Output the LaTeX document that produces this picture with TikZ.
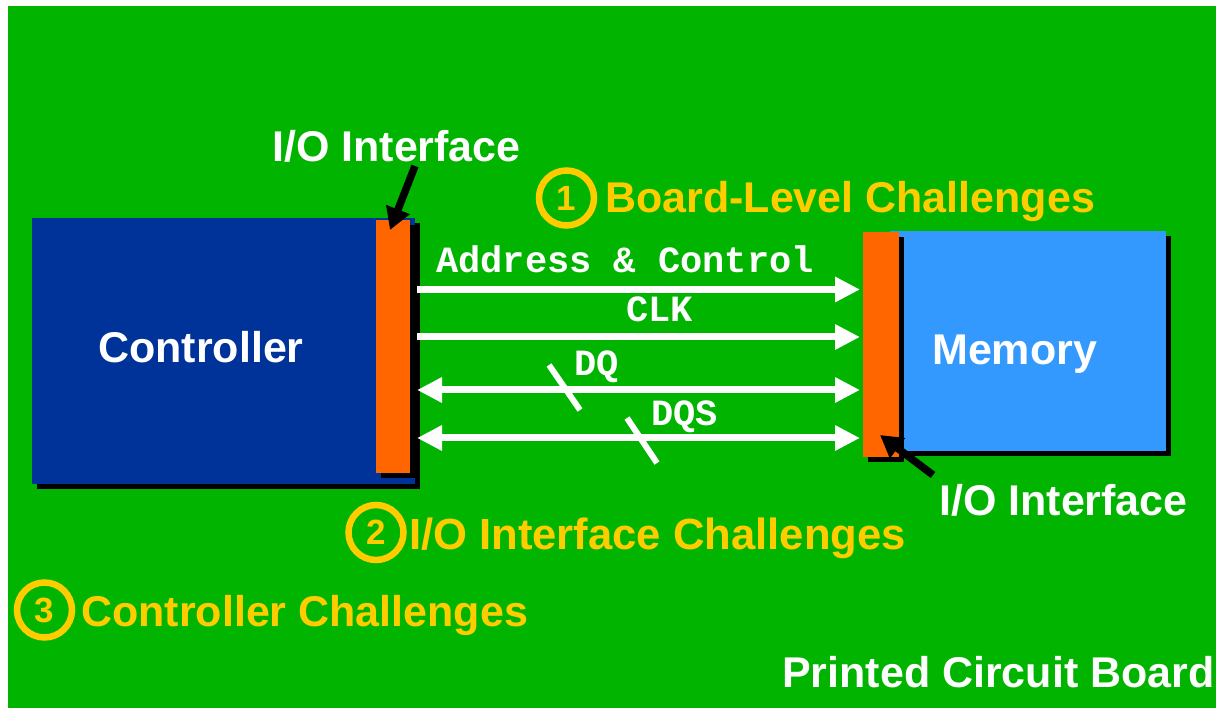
\documentclass[tikz,border=0pt]{standalone}
\usepackage{fontspec}
\setmainfont{Liberation Sans}
\newfontfamily\busfont{Liberation Mono}
\usetikzlibrary{arrows.meta,shadows}
\definecolor{pcbgreen}{RGB}{0,180,0}
\definecolor{ctrlblue}{RGB}{0,51,153}
\definecolor{memblue}{RGB}{51,153,255}
\definecolor{ioorange}{RGB}{255,102,0}
\definecolor{chalyellow}{RGB}{255,204,0}
\newcommand{\pcbtext}{\fontsize{43}{43}\selectfont\bfseries}
\newcommand{\bustext}{\fontsize{37}{37}\selectfont\busfont\bfseries}
\tikzset{
  chip/.style={rectangle, inner sep=0pt, general shadow={fill=black, shadow xshift=5pt, shadow yshift=-5pt}},
  bus/.style={draw=white, line width=7pt},
  tip/.style={-{Triangle[length=25pt,width=24pt]}},
  pointer/.style={draw=black, line width=7.5pt, -{Triangle[length=22pt,width=24pt]}},
  slash/.style={draw=white, line width=6pt},
  lbl/.style={anchor=base west, inner sep=0pt, text=white, font=\pcbtext},
  challenge/.style={anchor=base west, inner sep=0pt, text=chalyellow, font=\pcbtext},
  numcirc/.style={circle, draw=chalyellow, line width=6.5pt, minimum size=55pt, inner sep=0pt,
    text=chalyellow, font=\fontsize{35}{35}\selectfont\bfseries},
  buslbl/.style={anchor=base west, inner sep=0pt, text=white, font=\bustext}
}
\begin{document}
\begin{tikzpicture}[x=1pt,y=-1pt]
  \useasboundingbox (0,0) rectangle (1216,708);
  % the board
  \fill[pcbgreen] (8,6) rectangle (1216,708);
  % controller and its I/O interface
  \node[chip, fill=ctrlblue, minimum width=383pt, minimum height=266pt] (ctrl) at (223.5,351) {};
  \node[chip, fill=ioorange, minimum width=34pt, minimum height=253pt] (ioc) at (393,346.5) {};
  \node[lbl] (ctrltxt) at (98,363) {Controller};
  % memory and its I/O interface
  \node[chip, fill=memblue, minimum width=276pt, minimum height=220pt] (mem) at (1028,341) {};
  \node[chip, fill=ioorange, minimum width=36pt, minimum height=225pt] (iom) at (881,344.5) {};
  \node[lbl] (memtxt) at (932,365) {Memory};
  % bus lines
  \foreach \yy [count=\i] in {289.5,337,390,438} {
    \coordinate (src\i) at (417,\yy);
    \coordinate (dst\i) at (860,\yy);
  }
  \draw[bus,tip] (src1) -- (dst1);
  \draw[bus,tip] (src2) -- (dst2);
  \draw[bus,{Triangle[length=25pt,width=24pt]}-{Triangle[length=25pt,width=24pt]}] (src3) -- (dst3);
  \draw[bus,{Triangle[length=25pt,width=24pt]}-{Triangle[length=25pt,width=24pt]}] (src4) -- (dst4);
  \draw[slash] (549,365) -- (580,410);
  \draw[slash] (627,418) -- (657,463);
  \node[buslbl] (addr) at (436,273) {Address \& Control};
  \node[buslbl] (clk) at (626,322) {CLK};
  \node[buslbl] (dq) at (574,376) {DQ};
  \node[buslbl] (dqs) at (651,426) {DQS};
  % I/O interface callouts
  \node[lbl] (iolbl1) at (272,162) {I/O Interface};
  \node[lbl] (iolbl2) at (939,515) {I/O Interface};
  \coordinate (p1s) at (415,166);
  \coordinate (p1e) at (390,230);
  \coordinate (p2s) at (933,475);
  \coordinate (p2e) at (880,435);
  \draw[pointer] (p1s) -- (p1e);
  \draw[pointer] (p2s) -- (p2e);
  % challenges
  \node[numcirc] (n1) at (566.5,198) {1};
  \node[challenge] (ch1) at (605,213) {Board-Level Challenges};
  \node[numcirc] (n2) at (376,532.5) {2};
  \node[challenge, font=\fontsize{43.6}{44}\selectfont\bfseries] (ch2) at (409,549) {I/O Interface Challenges};
  \node[numcirc] (n3) at (44.5,610) {3};
  \node[challenge] (ch3) at (81,626) {Controller Challenges};
  \node[lbl] (pcb) at (782,687) {Printed Circuit Board};
\end{tikzpicture}
\end{document}
